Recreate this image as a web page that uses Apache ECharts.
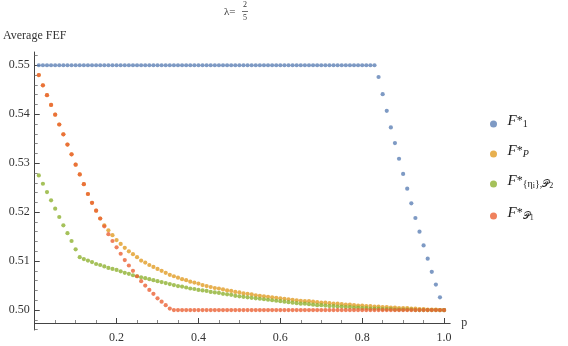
<!DOCTYPE html>
<html>
<head>
<meta charset="utf-8">
<script src="https://cdn.jsdelivr.net/npm/echarts@6.0.0/dist/echarts.min.js"></script>
<style>
  html, body { margin: 0; padding: 0; background: #fff; }
  #chart { width: 568px; height: 346px; }
</style>
</head>
<body>
<div id="chart"></div>
<script>
// p 값 (0.01 간격)
var pVals = [
  0.01, 0.02, 0.03, 0.04, 0.05, 0.06, 0.07, 0.08, 0.09, 0.10,
  0.11, 0.12, 0.13, 0.14, 0.15, 0.16, 0.17, 0.18, 0.19, 0.20,
  0.21, 0.22, 0.23, 0.24, 0.25, 0.26, 0.27, 0.28, 0.29, 0.30,
  0.31, 0.32, 0.33, 0.34, 0.35, 0.36, 0.37, 0.38, 0.39, 0.40,
  0.41, 0.42, 0.43, 0.44, 0.45, 0.46, 0.47, 0.48, 0.49, 0.50,
  0.51, 0.52, 0.53, 0.54, 0.55, 0.56, 0.57, 0.58, 0.59, 0.60,
  0.61, 0.62, 0.63, 0.64, 0.65, 0.66, 0.67, 0.68, 0.69, 0.70,
  0.71, 0.72, 0.73, 0.74, 0.75, 0.76, 0.77, 0.78, 0.79, 0.80,
  0.81, 0.82, 0.83, 0.84, 0.85, 0.86, 0.87, 0.88, 0.89, 0.90,
  0.91, 0.92, 0.93, 0.94, 0.95, 0.96, 0.97, 0.98, 0.99, 1.00
];

// F*_1
var f1 = [
  0.55, 0.55, 0.55, 0.55, 0.55, 0.55, 0.55, 0.55, 0.55, 0.55,
  0.55, 0.55, 0.55, 0.55, 0.55, 0.55, 0.55, 0.55, 0.55, 0.55,
  0.55, 0.55, 0.55, 0.55, 0.55, 0.55, 0.55, 0.55, 0.55, 0.55,
  0.55, 0.55, 0.55, 0.55, 0.55, 0.55, 0.55, 0.55, 0.55, 0.55,
  0.55, 0.55, 0.55, 0.55, 0.55, 0.55, 0.55, 0.55, 0.55, 0.55,
  0.55, 0.55, 0.55, 0.55, 0.55, 0.55, 0.55, 0.55, 0.55, 0.55,
  0.55, 0.55, 0.55, 0.55, 0.55, 0.55, 0.55, 0.55, 0.55, 0.55,
  0.55, 0.55, 0.55, 0.55, 0.55, 0.55, 0.55, 0.55, 0.55, 0.55,
  0.55, 0.55, 0.55, 0.5476, 0.5441, 0.5407, 0.5373, 0.5341, 0.5309, 0.5278,
  0.5248, 0.5218, 0.5188, 0.5160, 0.5132, 0.5105, 0.5078, 0.5052, 0.5026, 0.5000
];

// F*_P
var fP = [
  0.5480, 0.5459, 0.5439, 0.5419, 0.5399, 0.5379, 0.5359, 0.5338, 0.5318, 0.5297,
  0.5277, 0.5257, 0.5237, 0.5219, 0.5203, 0.5187, 0.5173, 0.5163, 0.5153, 0.5143,
  0.5135, 0.5127, 0.5120, 0.5114, 0.5108, 0.5101, 0.5097, 0.5092, 0.5088, 0.5084,
  0.5080, 0.5076, 0.5072, 0.5069, 0.5066, 0.5063, 0.5061, 0.5058, 0.5056, 0.5054,
  0.5051, 0.5049, 0.5047, 0.5045, 0.5044, 0.5042, 0.5040, 0.5039, 0.5037, 0.5036,
  0.5034, 0.5033, 0.5032, 0.5030, 0.5029, 0.5028, 0.5027, 0.5026, 0.5025, 0.5024,
  0.5023, 0.5022, 0.5021, 0.5020, 0.5019, 0.5018, 0.5018, 0.5017, 0.5016, 0.5015,
  0.5015, 0.5014, 0.5013, 0.5013, 0.5012, 0.5011, 0.5011, 0.5010, 0.5009, 0.5009,
  0.5008, 0.5008, 0.5007, 0.5007, 0.5006, 0.5006, 0.5005, 0.5005, 0.5004, 0.5004,
  0.5004, 0.5003, 0.5003, 0.5002, 0.5002, 0.5001, 0.5001, 0.5001, 0.5000, 0.5000
];

// F*_{eta_i},P2
var fEta = [
  0.5275, 0.5258, 0.5241, 0.5224, 0.5207, 0.5190, 0.5173, 0.5157, 0.5141, 0.5124,
  0.5108, 0.5104, 0.5101, 0.5098, 0.5094, 0.5092, 0.5089, 0.5086, 0.5084, 0.5082,
  0.5079, 0.5076, 0.5074, 0.5071, 0.5069, 0.5067, 0.5065, 0.5063, 0.5061, 0.5059,
  0.5057, 0.5055, 0.5053, 0.5051, 0.5049, 0.5048, 0.5046, 0.5044, 0.5043, 0.5041,
  0.5040, 0.5039, 0.5037, 0.5036, 0.5035, 0.5033, 0.5032, 0.5031, 0.5029, 0.5028,
  0.5027, 0.5026, 0.5025, 0.5024, 0.5023, 0.5022, 0.5021, 0.5020, 0.5019, 0.5018,
  0.5017, 0.5016, 0.5015, 0.5014, 0.5013, 0.5013, 0.5012, 0.5011, 0.5010, 0.5010,
  0.5009, 0.5008, 0.5008, 0.5007, 0.5007, 0.5006, 0.5006, 0.5005, 0.5005, 0.5004,
  0.5004, 0.5003, 0.5003, 0.5003, 0.5002, 0.5002, 0.5002, 0.5001, 0.5001, 0.5001,
  0.5001, 0.5001, 0.5000, 0.5000, 0.5000, 0.5000, 0.5000, 0.5000, 0.5000, 0.5000
];

// F*_P1
var fP1 = [
  0.5480, 0.5459, 0.5439, 0.5419, 0.5399, 0.5379, 0.5359, 0.5338, 0.5318, 0.5297,
  0.5277, 0.5257, 0.5237, 0.5219, 0.5203, 0.5187, 0.5171, 0.5155, 0.5141, 0.5128,
  0.5115, 0.5102, 0.5091, 0.5080, 0.5069, 0.5059, 0.5050, 0.5041, 0.5033, 0.5024,
  0.5017, 0.5010, 0.5003, 0.5000, 0.5000, 0.5000, 0.5000, 0.5000, 0.5000, 0.5000,
  0.5000, 0.5000, 0.5000, 0.5000, 0.5000, 0.5000, 0.5000, 0.5000, 0.5000, 0.5000,
  0.5000, 0.5000, 0.5000, 0.5000, 0.5000, 0.5000, 0.5000, 0.5000, 0.5000, 0.5000,
  0.5000, 0.5000, 0.5000, 0.5000, 0.5000, 0.5000, 0.5000, 0.5000, 0.5000, 0.5000,
  0.5000, 0.5000, 0.5000, 0.5000, 0.5000, 0.5000, 0.5000, 0.5000, 0.5000, 0.5000,
  0.5000, 0.5000, 0.5000, 0.5000, 0.5000, 0.5000, 0.5000, 0.5000, 0.5000, 0.5000,
  0.5000, 0.5000, 0.5000, 0.5000, 0.5000, 0.5000, 0.5000, 0.5000, 0.5000, 0.5000
];

// 눈금
var xMajorTicks = [0.2, 0.4, 0.6, 0.8, 1.0];
var xMinorTicks = [0.05, 0.1, 0.15, 0.25, 0.3, 0.35, 0.45, 0.5, 0.55, 0.65, 0.7, 0.75, 0.85, 0.9, 0.95];
var yMajorTicks = [0.50, 0.51, 0.52, 0.53, 0.54, 0.55];
var yMinorTicks = [0.496, 0.498, 0.502, 0.504, 0.506, 0.508, 0.512, 0.514, 0.516, 0.518,
  0.522, 0.524, 0.526, 0.528, 0.532, 0.534, 0.536, 0.538, 0.542, 0.544, 0.546, 0.548, 0.552];

var seriesNames = ['F1', 'FP', 'Feta', 'FP1'];
var seriesColors = ['#5E81B5', '#E19C24', '#8FB131', '#EB6235'];
var seriesData = [f1, fP, fEta, fP1];

var serif = 'Liberation Serif';
var axisColor = '#444';
var labelColor = '#333';

var legendText = {
  F1: '{f|F}{st|*}{sb|1}',
  FP: '{f|F}{st|*}{si|P}',
  Feta: '{f|F}{st|*}{sb|{η}{sb2|i}},{sb|𝒫}{sb2|2}',
  FP1: '{f|F}{st|*}{sb|𝒫}{sb2|1}'
};

var legendRich = {
  f: { fontFamily: serif, fontStyle: 'italic', fontSize: 15, verticalAlign: 'top', color: '#222' },
  st: { fontFamily: serif, fontSize: 12, verticalAlign: 'top', padding: [1, 0, 0, 0], color: '#222' },
  sb: { fontFamily: serif, fontSize: 10, color: '#222' },
  si: { fontFamily: serif, fontStyle: 'italic', fontSize: 10, color: '#222' },
  sb2: { fontFamily: serif, fontSize: 8, padding: [4, 0, 0, 0], color: '#222' }
};

var legendTops = [114, 144, 174, 206];

var chart = echarts.init(document.getElementById('chart'));

var option = {
  animation: false,
  title: [
    { text: 'λ=', left: 224, top: 7, padding: 0,
      textStyle: { fontFamily: serif, fontSize: 11, fontWeight: 'normal', color: labelColor } },
    { text: '2', left: 243, top: 1, padding: 0,
      textStyle: { fontFamily: serif, fontSize: 8, fontWeight: 'normal', color: labelColor } },
    { text: '5', left: 243, top: 14, padding: 0,
      textStyle: { fontFamily: serif, fontSize: 8, fontWeight: 'normal', color: labelColor } }
  ],
  graphic: [{
    type: 'line',
    shape: { x1: 242, y1: 11.5, x2: 248, y2: 11.5 },
    style: { stroke: labelColor, lineWidth: 0.7 }
  }],
  legend: seriesNames.map(function (name, i) {
    return {
      data: [name],
      left: 490,
      top: legendTops[i],
      orient: 'vertical',
      padding: 0,
      icon: 'circle',
      itemWidth: 18,
      itemHeight: 7,
      selectedMode: false,
      formatter: function (n) { return legendText[n]; },
      textStyle: { fontFamily: serif, fontSize: 10, lineHeight: 20, color: '#222', rich: legendRich }
    };
  }),
  grid: { left: 31.5, top: 52, width: 418.7, height: 278 },
  xAxis: [{
    type: 'value', min: 0, max: 1.015, offset: -7, position: 'bottom',
    name: 'p', nameLocation: 'end', nameGap: 11,
    nameTextStyle: { fontFamily: serif, fontSize: 12, color: labelColor },
    axisLine: { lineStyle: { color: axisColor, width: 1 } },
    axisTick: { show: true, inside: true, length: 5, customValues: xMajorTicks, lineStyle: { color: axisColor } },
    axisLabel: { customValues: xMajorTicks, margin: 9, fontFamily: serif, fontSize: 12, color: labelColor,
      formatter: function (v) { return v.toFixed(1); } },
    splitLine: { show: false }
  }, {
    type: 'value', min: 0, max: 1.015, offset: -7, position: 'bottom',
    axisLine: { show: false },
    axisTick: { show: true, inside: true, length: 3, customValues: xMinorTicks, lineStyle: { color: '#888' } },
    axisLabel: { show: false },
    splitLine: { show: false }
  }],
  yAxis: [{
    type: 'value', min: 0.49592, max: 0.55271, position: 'left',
    name: 'Average FEF', nameLocation: 'end', nameGap: 10,
    nameTextStyle: { fontFamily: serif, fontSize: 12, color: labelColor },
    axisLine: { show: true, lineStyle: { color: axisColor, width: 1 } },
    axisTick: { show: true, inside: true, length: 5, customValues: yMajorTicks, lineStyle: { color: axisColor } },
    axisLabel: { customValues: yMajorTicks, margin: 5, fontFamily: serif, fontSize: 12, color: labelColor,
      formatter: function (v) { return v.toFixed(2); } },
    splitLine: { show: false }
  }, {
    type: 'value', min: 0.49592, max: 0.55271, position: 'left',
    axisLine: { show: false },
    axisTick: { show: true, inside: true, length: 3, customValues: yMinorTicks, lineStyle: { color: '#888' } },
    axisLabel: { show: false },
    splitLine: { show: false }
  }],
  series: seriesNames.map(function (name, i) {
    return {
      name: name,
      type: 'scatter',
      xAxisIndex: 0,
      yAxisIndex: 0,
      symbol: 'circle',
      symbolSize: 4.2,
      itemStyle: { color: seriesColors[i] },
      emphasis: { disabled: true },
      data: pVals.map(function (p, k) { return [p, seriesData[i][k]]; })
    };
  })
};

chart.setOption(option);
</script>
</body>
</html>
